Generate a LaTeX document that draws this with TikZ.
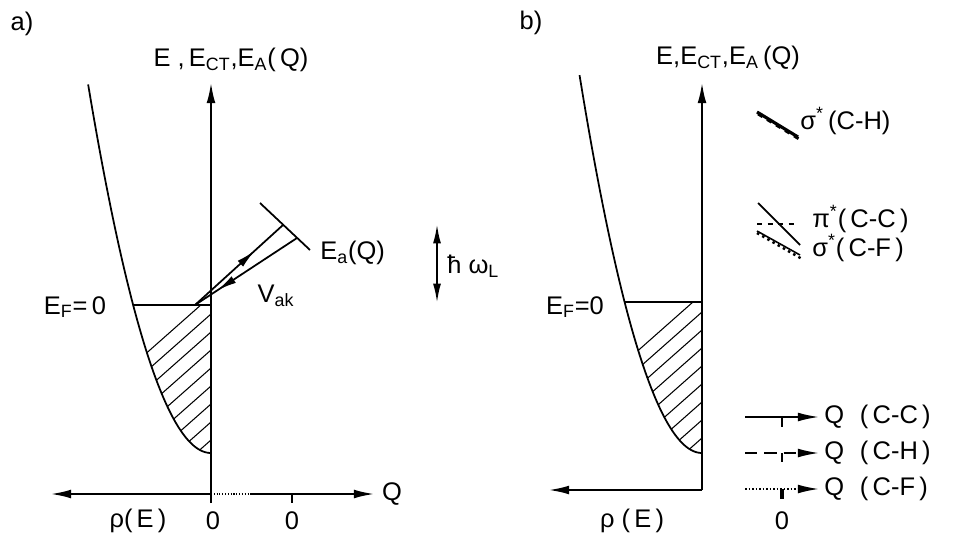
\documentclass[tikz,border=0pt]{standalone}
\usepackage{fontspec}
\setmainfont{Liberation Sans}
\usetikzlibrary{arrows.meta,decorations.markings,calc}

\begin{document}
\begin{tikzpicture}[x=0.02cm,y=-0.02cm,
  axis/.style={line width=1.4pt,-{Latex[length=12pt,width=5pt]}},
  dos/.style={line width=1pt},
  hatch/.style={line width=0.6pt},
  longdash/.style={dash pattern=on 7pt off 4pt},
  lbl/.style={inner sep=0pt,font=\fontsize{14.5}{16}\selectfont},
  midarrow/.style={postaction={decorate},decoration={markings,
    mark=at position #1 with {\arrow{Latex[length=11pt,width=4.5pt]}}}}]

    \useasboundingbox (0,0) rectangle (979,534);

    %%% panel a
    \coordinate (Oa) at (211,494);
    \coordinate (Ta) at (211,82);
    \coordinate (Ba) at (211,503);
    \coordinate (La) at (50,494);
    \coordinate (Da) at (250,494);
    \coordinate (Ra) at (375,494);
    \coordinate (Qa) at (292,494);
    \coordinate (Fa) at (133.1,305);
    \coordinate (FAa) at (211,305);

    \coordinate (Ea1) at (260,203);
    \coordinate (Ea2) at (310,250);
    \coordinate (S) at (195,305);
    \coordinate (P1) at (283,225);
    \coordinate (P2) at (297,238);
    \coordinate (W1) at (437,224);
    \coordinate (W2) at (437,303);

    \begin{scope}
      \clip plot[domain=0:12.166,samples=40] ({211-6.4*\x},{453-\x*\x}) -- (FAa) -- cycle;
      \foreach \c in {296,314,...,500}
        \draw[hatch] (211,\c) -- ++(-130,115);
    \end{scope}
    \draw[dos] plot[domain=0:19.2,samples=80] ({211-6.4*\x},{453-\x*\x});
    \draw[dos] (Fa) -- (FAa);

    \draw[axis] (Ba) -- (Ta);
    \draw[axis] (Oa) -- (La);
    \draw[line width=0.6pt,densely dotted] (Oa) -- (Da);
    \draw[axis] (Da) -- (Ra);
    \draw[line width=1.4pt] (Qa) -- ++(0,9);

    \draw[dos] (Ea1) -- (Ea2);
    \draw[dos,midarrow=0.68] (S) -- (P1);
    \draw[dos,midarrow=0.78] (P2) -- (S);
    \draw[line width=1.2pt,{Latex[length=11pt,width=4.5pt]}-{Latex[length=11pt,width=4.5pt]}] (W1) -- (W2);

    \node[lbl] (pa) at (22,24) {a)};
    \node[lbl] (ya) at (231,60) {E\ ,\,E\textsubscript{CT},E\textsubscript{A}(\,Q)};
    \node[lbl] (qa) at (392,494) {Q};
    \node[lbl] (rhoa) at (138,521) {ρ(\,E\,)};
    \node[lbl] (za) at (213,521) {0};
    \node[lbl] (zqa) at (292,521) {0};
    \node[lbl] (efa) at (75,307) {E\textsubscript{F}=\,0};
    \node[lbl,anchor=west] (eaq) at (320,253) {E\textsubscript{a}(Q)};
    \node[lbl] (vak) at (276,296) {V\textsubscript{ak}};
    \node[lbl,anchor=west] (hw) at (447,266) {ħ ω\textsubscript{L}};

    %%% panel b
    \coordinate (Ob) at (702,490);
    \coordinate (Tb) at (702,82);
    \coordinate (Lb) at (548,490);
    \coordinate (Fb) at (624.6,302);
    \coordinate (FAb) at (702,302);

    \begin{scope}
      \clip plot[domain=0:12.288,samples=40] ({702-6.3*\x},{453-\x*\x}) -- (FAb) -- cycle;
      \foreach \c in {294,312,...,500}
        \draw[hatch] (702,\c) -- ++(-130,115);
    \end{scope}
    \draw[dos] plot[domain=0:19.44,samples=80] ({702-6.3*\x},{453-\x*\x});
    \draw[dos] (Fb) -- (FAb);

    \draw[axis] (Ob) -- (Tb);
    \draw[axis] (Ob) -- (Lb);

    % levels
    \coordinate (CH1) at (757,112);
    \coordinate (CH2) at (798,137);
    \draw[line width=1.8pt] (CH1) -- (CH2);
    \draw[line width=1.6pt,dashed] ($(CH1)+(1,2)$) -- ($(CH2)+(1,2)$);
    \coordinate (CC1) at (758,203);
    \coordinate (CC2) at (800,245);
    \draw[dos] (CC1) -- (CC2);
    \coordinate (CCh1) at (757,224);
    \coordinate (CCh2) at (798,224);
    \draw[dos,dashed] (CCh1) -- (CCh2);
    \coordinate (CF1) at (757,233);
    \coordinate (CF2) at (802,259);
    \draw[line width=1.4pt,dotted] (CF1) -- (CF2);
    \draw[line width=0.9pt] ($(CF1)+(0,-2)$) -- ($(CF2)+(-2,-4)$);

    % legend of Q axes
    \coordinate (G1) at (745,417);
    \coordinate (H1) at (819,417);
    \coordinate (G2) at (745,453);
    \coordinate (H2) at (819,453);
    \coordinate (G3) at (745,489);
    \coordinate (H3) at (819,489);
    \draw[dos,-{Latex[length=12pt,width=5pt]}] (G1) -- (H1);
    \draw[dos,longdash,-{Latex[length=12pt,width=5pt]}] (G2) -- (H2);
    \draw[dos,densely dotted,-{Latex[length=12pt,width=5pt]}] (G3) -- (H3);
    \draw[dos] (782,417) -- ++(0,10);
    \draw[dos] (782,453) -- ++(0,9);
    \draw[line width=1.8pt] (782,489) -- ++(0,10);

    \node[lbl] (pb) at (531,23) {b)};
    \node[lbl] (yb) at (728,58) {E,E\textsubscript{CT},E\textsubscript{A}\,(Q)};
    \node[lbl] (efb) at (575,307) {E\textsubscript{F}=0};
    \node[lbl] (rhob) at (632,521) {ρ\ (\,E\,)};
    \node[lbl] (zb) at (782,521) {0};
    \node[lbl,anchor=west] (sch) at (800,121) {σ\textsuperscript{*}\,(C-H)};
    \node[lbl,anchor=west] (pcc) at (812,219) {π\textsuperscript{*}(\,C-C\,)};
    \node[lbl,anchor=west] (scf) at (812,248) {σ\textsuperscript{*}(\,C-F\,)};
    \node[lbl,anchor=west] (qcc) at (824,417) {Q\hspace{9pt}(\,C-C\,)};
    \node[lbl,anchor=west] (qch) at (824,453) {Q\hspace{9pt}(\,C-H\,)};
    \node[lbl,anchor=west] (qcf) at (824,489) {Q\hspace{9pt}(\,C-F\,)};

\end{tikzpicture}
\end{document}
